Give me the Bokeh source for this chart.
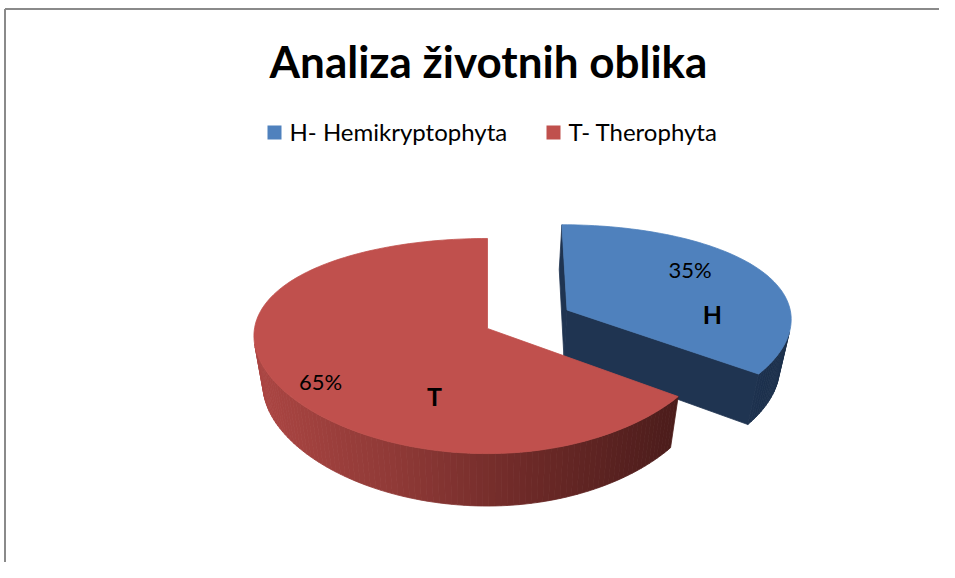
import numpy as np
from bokeh.plotting import figure
from bokeh.models import Range1d, ColumnDataSource
from bokeh.embed import file_html
from bokeh.resources import INLINE
from bokeh.core.properties import value

# ---------------- data ----------------
TITLE = "Analiza životnih oblika"
categories = ["H- Hemikryptophyta", "T- Therophyta"]
short_names = ["H", "T"]
shares = [35, 65]
pct_labels = ["35%", "65%"]

# ---------------- style / layout ----------------
FONT = "Lato"
top_colors = ["#4F81BD", "#C0504D"]
radial_colors = ["#1F3451", "#8E3B38"]
side_stops = [
    [(555, (31, 52, 81)), (790, (29, 49, 77))],
    [(253, (172, 70, 67)), (400, (142, 57, 54)), (530, (108, 41, 39)), (690, (72, 27, 26))],
]
explode = [0.40, 0.0]
START_ANGLE = 90.0
CX, CY = 487.0, 328.0       # pie centre
S_L, S_R, SY = 233.0, 226.0, 104.7   # horizontal (left/right) / vertical radius scale
PX, PY, Q = 0.07, 0.163, 0.04   # perspective factors
D0 = 51.0                   # pie thickness
PCT_POS = [(37.0, 0.725), (214.0, 0.836)]   # (angle deg, radius fraction)
CAT_POS = [(-3.5, 0.65), (249.4, 0.62)]
LEG_X = [267, 546]
LEG_Y = 132
LEG_BOX = 14
TITLE_X, TITLE_Y = 488, 60

W, H = 939, 562


def proj(u, v, d):
    u = np.asarray(u, dtype=float)
    dx = 1.0 - PX * v + Q * d
    dy = 1.0 - PY * v + Q * d
    s = np.where(u > 0, S_R, S_L)
    return CX + s * u / dx, CY + (SY * v + D0 * d) / dy


def area(xs, ys):
    xs = np.asarray(xs, dtype=float); ys = np.asarray(ys, dtype=float)
    return 0.5 * np.sum(xs * np.roll(ys, -1) - np.roll(xs, -1) * ys)


def grad_color(stops, x):
    xs = [s[0] for s in stops]
    rgb = [int(round(np.interp(x, xs, [s[1][k] for s in stops]))) for k in range(3)]
    return "#%02x%02x%02x" % tuple(rgb)


p = figure(width=W, height=H, x_range=Range1d(0, W), y_range=Range1d(H, 0),
           output_backend="svg", toolbar_location=None, min_border=0,
           x_axis_location=None, y_axis_location=None)
p.grid.visible = False
p.outline_line_color = None
p.background_fill_color = "white"
p.border_fill_color = "white"

# chart frame (top and left edges visible in the reference)
p.line(x=[4.5, W], y=[8.5, 8.5], line_color="#8a8a8a", line_width=2)
p.line(x=[4.5, 4.5], y=[8.5, H], line_color="#8a8a8a", line_width=2)

total = float(sum(shares))
a0 = START_ANGLE
offsets = []
for i, s in enumerate(shares):
    span = 360.0 * s / total
    a1 = a0 - span
    mid = np.radians((a0 + a1) / 2.0)
    ox = explode[i] * np.cos(mid)
    oy = -explode[i] * np.sin(mid)
    offsets.append((ox, oy))
    th = np.radians(np.linspace(a0, a1, int(span / 1.5) + 2))
    u = ox + np.cos(th)
    v = oy - np.sin(th)
    tx, ty = proj(u, v, 0.0)
    bx, by = proj(u, v, 1.0)
    axt, ayt = [float(t) for t in proj(ox, oy, 0.0)]
    axb, ayb = [float(t) for t in proj(ox, oy, 1.0)]

    xs_l, ys_l, cs = [], [], []
    for j in range(len(th) - 1):
        qx = [tx[j], tx[j + 1], bx[j + 1], bx[j]]
        qy = [ty[j], ty[j + 1], by[j + 1], by[j]]
        if area(qx, qy) < 0:
            xs_l.append(qx); ys_l.append(qy)
            cs.append(grad_color(side_stops[i], np.mean(qx)))
    for k, sign in ((0, -1), (-1, 1)):
        qx = [axt, tx[k], bx[k], axb]
        qy = [ayt, ty[k], by[k], ayb]
        if sign * area(qx, qy) > 1.0:
            xs_l.append(qx); ys_l.append(qy); cs.append(radial_colors[i])
    xs_l.append([axt] + list(tx)); ys_l.append([ayt] + list(ty)); cs.append(top_colors[i])

    src = ColumnDataSource(dict(xs=xs_l, ys=ys_l, c=cs))
    p.patches(xs="xs", ys="ys", fill_color="c", line_color="c", line_width=0.8, source=src)
    a0 = a1

# data labels
px, py, cx_, cy_ = [], [], [], []
for i in range(len(shares)):
    ox, oy = offsets[i]
    ang, r = PCT_POS[i]
    x, y = proj(ox + r * np.cos(np.radians(ang)), oy - r * np.sin(np.radians(ang)), 0.0)
    px.append(float(x)); py.append(float(y))
    ang, r = CAT_POS[i]
    x, y = proj(ox + r * np.cos(np.radians(ang)), oy - r * np.sin(np.radians(ang)), 0.0)
    cx_.append(float(x)); cy_.append(float(y))

p.text(x=px, y=py, text=pct_labels, text_font=value(FONT), text_font_size=value("22px"),
       text_color="#000000", text_align="center", text_baseline="middle")
p.text(x=cx_, y=cy_, text=short_names, text_font=value(FONT), text_font_size=value("25px"),
       text_font_style="bold", text_color="#000000", text_align="center", text_baseline="middle")

# title
p.text(x=[TITLE_X], y=[TITLE_Y], text=[TITLE], text_font=value(FONT), text_font_size=value("44px"),
       text_font_style="bold", text_color="#000000", text_align="center", text_baseline="middle")

# legend
p.rect(x=[lx + LEG_BOX / 2 for lx in LEG_X], y=[LEG_Y] * len(LEG_X), width=LEG_BOX, height=LEG_BOX,
       fill_color=top_colors, line_color=None)
p.text(x=[lx + LEG_BOX + 8 for lx in LEG_X], y=[LEG_Y - 1] * len(LEG_X), text=categories,
       text_font=value(FONT), text_font_size=value("24px"), text_color="#000000",
       text_align="left", text_baseline="middle")

open("out.html", "w").write(file_html(p, INLINE))
